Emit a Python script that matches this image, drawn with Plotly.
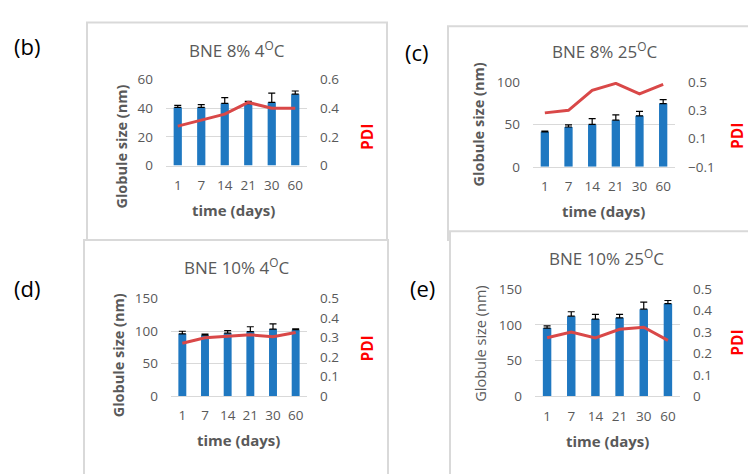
import plotly.graph_objects as go

W, H = 748, 474

days = ["1", "7", "14", "21", "30", "60"]

# (b) BNE 8% 4 °C
b_size = [40.5, 40.5, 43.3, 43.2, 44.0, 49.8]
b_err = [1.5, 2.0, 4.0, 1.5, 6.5, 2.2]
b_pdi = [0.275, 0.318, 0.358, 0.44, 0.40, 0.40]

# (c) BNE 8% 25 °C
c_size = [41.3, 47.0, 50.0, 55.0, 60.2, 74.6]
c_err = [0.7, 2.6, 6.8, 6.4, 5.3, 4.6]
c_pdi = [0.282, 0.30, 0.441, 0.491, 0.416, 0.484]

# (d) BNE 10% 4 °C
d_size = [95.7, 93.7, 96.7, 99.2, 103.0, 102.0]
d_err = [4.0, 1.5, 3.9, 7.4, 8.0, 1.5]
d_pdi = [0.271, 0.299, 0.307, 0.314, 0.304, 0.326]

# (e) BNE 10% 25 °C
e_size = [95.4, 112.0, 108.0, 109.7, 121.8, 129.4]
e_err = [3.1, 6.2, 6.6, 4.9, 9.9, 4.5]
e_pdi = [0.273, 0.299, 0.272, 0.312, 0.322, 0.261]

FONT = "Open Sans"
GRAY = "#595959"
GRID = "#d9d9d9"
BAR = "#1f78c1"
LINE = "#d94848"


def px_x(p):
    return p / W


def px_y(p):
    return 1 - p / H


panels = [
    dict(title="BNE 8% 4<sup>O</sup>C", size=b_size, err=b_err, pdi=b_pdi,
         dom=(166, 307, 73.3, 162.7), yl=(0, 60, 20), yr=(0, 0.6, 0.2),
         box=(87, 387, 14, 240), letter="(b)", lpos=(27, 38),
         tpos=(237, 42), ypos=(122, 143), ppos=(367, 133), xpos=(234, 209), ybold=True),
    dict(title="BNE 8% 25<sup>O</sup>C", size=c_size, err=c_err, pdi=c_pdi,
         dom=(533, 675, 76, 164), yl=(0, 100, 50), yr=(-0.1, 0.5, 0.2),
         box=(448, 760, 18, 240), letter="(c)", lpos=(417, 45),
         tpos=(605, 43), ypos=(478, 120), ppos=(737, 132), xpos=(603, 210), ybold=True),
    dict(title="BNE 10% 4<sup>O</sup>C", size=d_size, err=d_err, pdi=d_pdi,
         dom=(171, 307, 301, 402.3), yl=(0, 150, 50), yr=(0, 0.5, 0.1),
         box=(84, 388, 240, 490), letter="(d)", lpos=(27, 290),
         tpos=(237, 268), ypos=(118, 360), ppos=(367, 353), xpos=(238, 448), ybold=True),
    dict(title="BNE 10% 25<sup>O</sup>C", size=e_size, err=e_err, pdi=e_pdi,
         dom=(535, 680, 291, 402.7), yl=(0, 150, 50), yr=(0, 0.5, 0.1),
         box=(450, 760, 231, 490), letter="(e)", lpos=(422, 290),
         tpos=(606, 258), ypos=(481, 348), ppos=(737, 347), xpos=(607, 449), ybold=False),
]

fig = go.Figure()
layout = {}
shapes = []
annotations = []

for i, p in enumerate(panels):
    k = i + 1
    kr = i + 5
    xa = "x" if k == 1 else f"x{k}"
    ya = "y" if k == 1 else f"y{k}"
    yra = f"y{kr}"
    x0, x1, y0, y1 = p["dom"]

    fig.add_trace(go.Bar(
        x=days, y=p["size"], xaxis=xa, yaxis=ya, marker_color=BAR,
        marker_line_width=0,
        error_y=dict(type="data", array=p["err"], arrayminus=[0] * len(days),
                     symmetric=False, color="black", thickness=1.2, width=3.5),
        showlegend=False))
    fig.add_trace(go.Scatter(
        x=days, y=p["pdi"], xaxis=xa, yaxis=yra, mode="lines",
        line=dict(color=LINE, width=3), showlegend=False))

    layout[f"xaxis{'' if k == 1 else k}"] = dict(
        domain=[px_x(x0), px_x(x1)], anchor=ya, type="category",
        showgrid=False, showline=True, linecolor=GRID, linewidth=1,
        ticks="", ticklabelstandoff=7,
        tickfont=dict(family=FONT, size=13.5, color=GRAY), fixedrange=True)
    layout[f"yaxis{'' if k == 1 else k}"] = dict(
        domain=[px_y(y1), px_y(y0)], anchor=xa,
        range=[p["yl"][0], p["yl"][1]], dtick=p["yl"][2], tick0=p["yl"][0],
        showgrid=True, gridcolor=GRID, gridwidth=1, zeroline=False,
        showline=False, ticks="", ticklabelstandoff=12,
        tickfont=dict(family=FONT, size=13.5, color=GRAY))
    layout[f"yaxis{kr}"] = dict(
        domain=[px_y(y1), px_y(y0)], anchor=xa, overlaying=ya, side="right",
        range=[p["yr"][0], p["yr"][1]], dtick=p["yr"][2], tick0=p["yr"][0],
        showgrid=False, zeroline=False, showline=False, ticks="",
        ticklabelstandoff=12,
        tickfont=dict(family=FONT, size=13.5, color=GRAY))

    bx0, bx1, by0, by1 = p["box"]
    shapes.append(dict(type="rect", xref="paper", yref="paper",
                       x0=px_x(bx0), x1=px_x(bx1), y0=px_y(by1), y1=px_y(by0),
                       line=dict(color=GRID, width=2), fillcolor="white",
                       layer="below"))

    annotations.append(dict(text=p["title"], x=px_x(p["tpos"][0]), y=px_y(p["tpos"][1]),
                            xref="paper", yref="paper", showarrow=False,
                            xanchor="center", yanchor="middle",
                            font=dict(family=FONT, size=17, color=GRAY)))
    ytxt = "<b>Globule size (nm)</b>" if p["ybold"] else "Globule size (nm)"
    annotations.append(dict(text=ytxt, x=px_x(p["ypos"][0]), y=px_y(p["ypos"][1]),
                            xref="paper", yref="paper", showarrow=False, textangle=-90,
                            xanchor="center", yanchor="middle",
                            font=dict(family=FONT, size=14.5, color=GRAY)))
    annotations.append(dict(text="<b>PDI</b>", x=px_x(p["ppos"][0]), y=px_y(p["ppos"][1]),
                            xref="paper", yref="paper", showarrow=False, textangle=-90,
                            xanchor="center", yanchor="middle",
                            font=dict(family=FONT, size=15.5, color="#ff0000")))
    annotations.append(dict(text="<b>time (days)</b>", x=px_x(p["xpos"][0]), y=px_y(p["xpos"][1]),
                            xref="paper", yref="paper", showarrow=False,
                            xanchor="center", yanchor="middle",
                            font=dict(family=FONT, size=15, color=GRAY)))
    annotations.append(dict(text=p["letter"], x=px_x(p["lpos"][0]), y=px_y(p["lpos"][1]),
                            xref="paper", yref="paper", showarrow=False,
                            xanchor="center", yanchor="middle",
                            font=dict(family=FONT, size=22, color="black")))

fig.update_layout(
    width=W, height=H, margin=dict(l=0, r=0, t=0, b=0),
    paper_bgcolor="white", plot_bgcolor="rgba(0,0,0,0)",
    bargap=0.65, shapes=shapes, annotations=annotations,
    **layout)

fig.write_html("out.html")
